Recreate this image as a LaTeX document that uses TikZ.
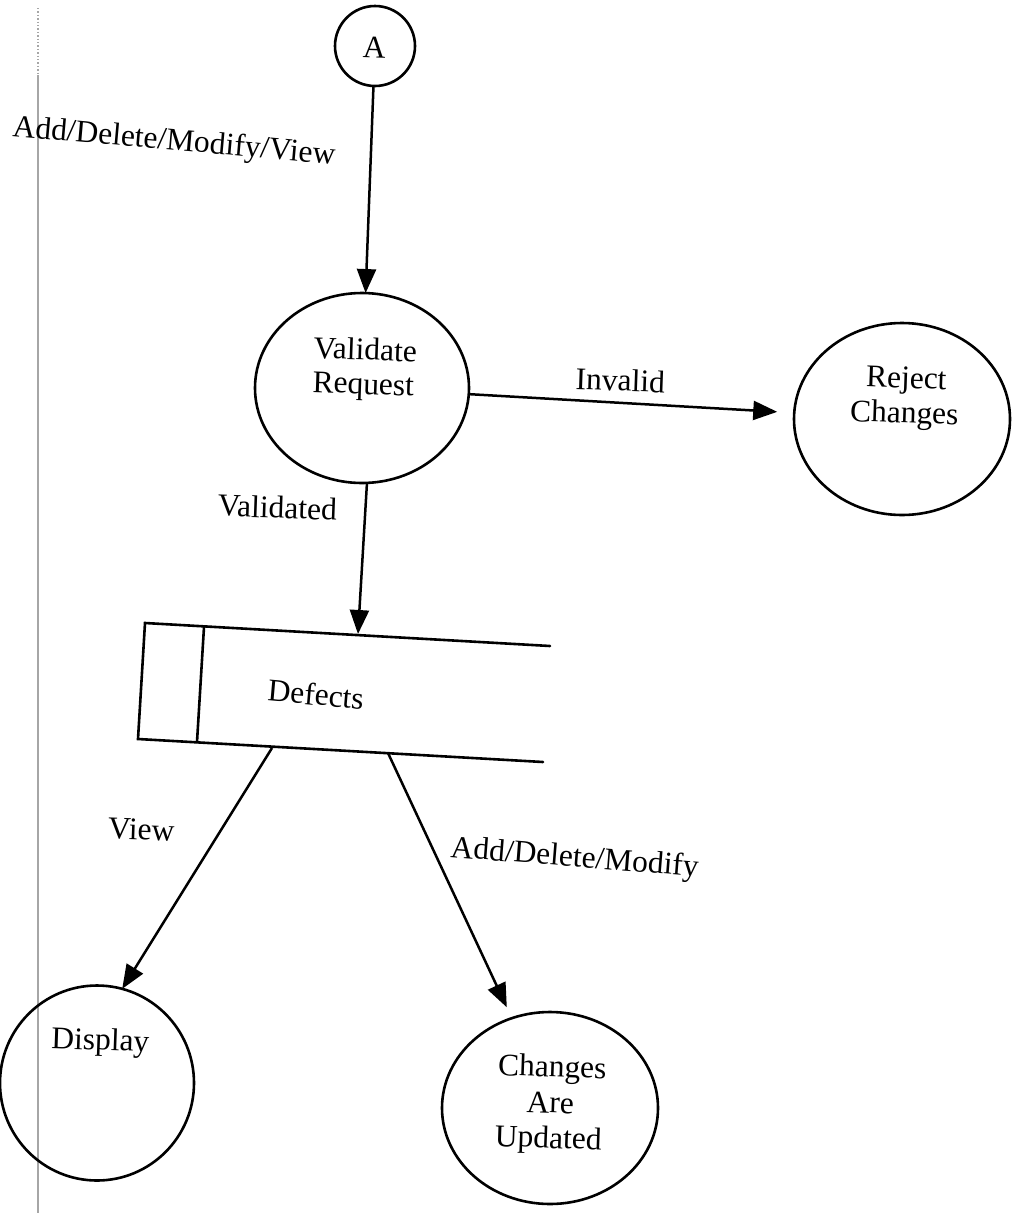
\documentclass[tikz,border=0pt]{standalone}
\usepackage{fontspec}
\setmainfont{Liberation Serif}
\usetikzlibrary{shapes.geometric,arrows.meta}
\tikzset{
  proc/.style={draw, ellipse, line width=2.6pt, inner sep=0pt, outer sep=0pt},
  lbl/.style={font=\fontsize{31.5}{36}\selectfont, inner sep=0pt, anchor=base, rotate=-2},
  arr/.style={line width=2.5pt, -{Triangle[length=24pt,width=19pt]}},
  storeline/.style={line width=2.6pt, line cap=round},
  margin/.style={draw=black!35, line width=1.4pt}
}
\begin{document}
\begin{tikzpicture}[x=1pt,y=-1pt]
\useasboundingbox (0,0) rectangle (1013,1213);
\fill[white] (0,0) rectangle (1013,1213);
% scan margin line
\coordinate (m0) at (38,8);
\coordinate (m1) at (38,75);
\coordinate (m2) at (38,1213);
\draw[margin, dotted] (m0) -- (m1);
\draw[margin] (m1) -- (m2);

% processes
\node[draw, circle, line width=2.6pt, inner sep=0pt, outer sep=0pt, minimum size=80pt] (A) at (375,46) {};
\node[lbl, rotate=0] (At) at (374,58) {A};
\node[proc, minimum width=214pt, minimum height=190pt] (vr) at (362,388) {};
\node[proc, minimum width=216pt, minimum height=192pt] (rc) at (902,419) {};
\node[proc, minimum width=194pt, minimum height=195pt] (disp) at (97,1083) {};
\node[proc, minimum width=216pt, minimum height=192pt] (ch) at (550,1108) {};

% texts in processes
\node[lbl] (vr1) at (365,360) {Validate};
\node[lbl] (vr2) at (363,394) {Request};
\node[lbl] (rc1) at (906,388) {Reject};
\node[lbl] (rc2) at (904,423) {Changes};
\node[lbl] (d1) at (100,1050) {Display};
\node[lbl] (ch1) at (552,1077) {Changes};
\node[lbl] (ch2) at (550,1113) {Are};
\node[lbl] (ch3) at (548,1148) {Updated};

% data store
\coordinate (s1) at (145,623);
\coordinate (s2) at (550,646);
\coordinate (s3) at (543,762);
\coordinate (s4) at (138,739);
\coordinate (i1) at (204,627);
\coordinate (i2) at (197,742);
\draw[storeline, line join=miter] (s2) -- (s1) -- (s4) -- (s3);
\draw[storeline] (i1) -- (i2);
\node[lbl, rotate=-3] (def) at (315,705) {Defects};

% connection points on the store
\coordinate (st) at (358,634);
\coordinate (sv) at (272,748);
\coordinate (sa) at (388,753);

% flows
\draw[arr] (A) -- (vr);
\draw[arr, shorten >=17pt] (vr) -- (rc);
\draw[arr] (vr.-87) -- (st);
\draw[arr] (sv) -- (disp.75);
\draw[arr, shorten >=12pt] (sa) -- (ch.113);

% flow labels
\node[lbl, anchor=base west, rotate=-3] (l1) at (12,136) {Add/Delete/Modify/View};
\node[lbl] (l2) at (620,391) {Invalid};
\node[lbl] (l3) at (277,518) {Validated};
\node[lbl] (l4) at (141,840) {View};
\node[lbl, anchor=base west, rotate=-2.5] (l5) at (450,857) {Add/Delete/Modify};
\end{tikzpicture}
\end{document}
